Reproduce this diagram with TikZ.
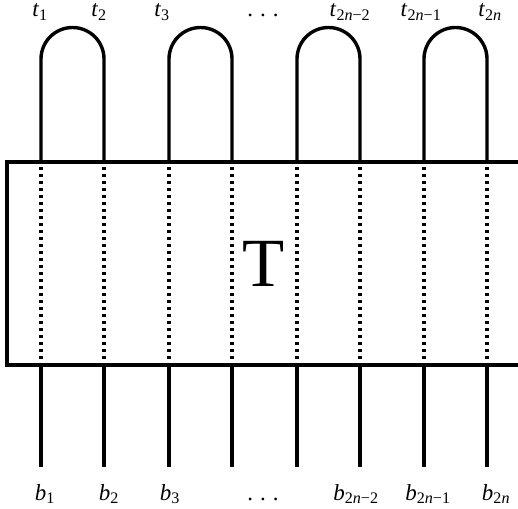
\documentclass[tikz,border=0pt]{standalone}
\usepackage{fontspec}
\setmainfont{Liberation Serif}
\newcommand{\lbl}[2]{\textit{#1}\textsubscript{#2}}
\newcommand{\sdots}{.\hspace{0.3em}.\hspace{0.3em}.}
\begin{document}
\begin{tikzpicture}[x=1pt,y=-1pt,
  wire/.style={line width=3.4pt},
  dotwire/.style={line width=3.4pt,dash pattern=on 3.4pt off 3.6pt},
  boxline/.style={line width=3.4pt,line join=miter},
  lab/.style={font=\fontsize{23}{26}\selectfont,anchor=base,inner sep=0pt}]
\useasboundingbox (0,0) rectangle (518,508);
% box (open on the right)
\coordinate (bTR) at (518,162);
\coordinate (bTL) at (7,162);
\coordinate (bBL) at (7,365);
\coordinate (bBR) at (518,365);
\draw[boxline] (bTR) -- (bTL) -- (bBL) -- (bBR);
\node[font=\fontsize{69}{72}\selectfont,inner sep=0pt] (T) at (264,264) {T};
% wires
\foreach \i/\x in {1/41,2/104,3/169,4/232,5/297,6/360,7/424,8/487}{
  \coordinate (u\i) at (\x,59);
  \coordinate (t\i) at (\x,162);
  \coordinate (d\i) at (\x,365);
  \coordinate (e\i) at (\x,467);
  \draw[dotwire] ([yshift=-5pt]t\i) -- (d\i);
  \draw[wire] (d\i) -- (e\i);
}
\foreach \a/\b in {1/2,3/4,5/6,7/8}{
  \draw[wire] (t\a) -- (u\a) arc[start angle=180,end angle=360,radius=31.5] -- (t\b);
}
% top labels
\node[lab] (lt1) at (40,17) {\lbl{t}{1}};
\node[lab] (lt2) at (99,17) {\lbl{t}{2}};
\node[lab] (lt3) at (162,17) {\lbl{t}{3}};
\node[lab] (ltd) at (263,17) {\sdots};
\node[lab] (lt6) at (350,17) {\lbl{t}{2\textit{n}−2}};
\node[lab] (lt7) at (421,17) {\lbl{t}{2\textit{n}−1}};
\node[lab] (lt8) at (490,17) {\lbl{t}{2\textit{n}}};
% bottom labels
\node[lab] (lb1) at (45,500) {\lbl{b}{1}};
\node[lab] (lb2) at (109,500) {\lbl{b}{2}};
\node[lab] (lb3) at (170,500) {\lbl{b}{3}};
\node[lab] (lbd) at (263,500) {\sdots};
\node[lab] (lb6) at (356,500) {\lbl{b}{2\textit{n}−2}};
\node[lab] (lb7) at (428,500) {\lbl{b}{2\textit{n}−1}};
\node[lab] (lb8) at (496,500) {\lbl{b}{2\textit{n}}};
\end{tikzpicture}
\end{document}
